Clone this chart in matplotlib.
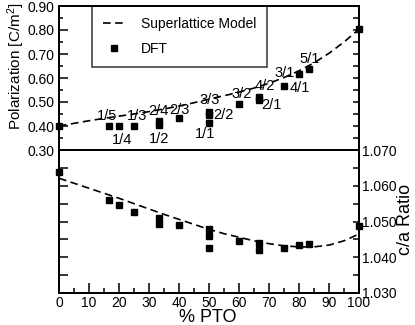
import matplotlib
matplotlib.use("Agg")
import matplotlib.pyplot as plt
from matplotlib.ticker import MultipleLocator, FormatStrFormatter

plt.rcParams['font.family'] = ['Liberation Sans', 'DejaVu Sans']
plt.rcParams['mathtext.fontset'] = 'custom'
plt.rcParams['mathtext.rm'] = 'Liberation Sans'
plt.rcParams['mathtext.it'] = 'Liberation Sans:italic'
plt.rcParams['lines.scale_dashes'] = False

# ---- data ----
dft_pto = [0, 16.67, 20, 25, 33.33, 33.33, 40, 50, 50, 50, 60, 66.67, 66.67, 75, 80, 83.33, 100]
dft_pol = [0.402, 0.398, 0.398, 0.398, 0.419, 0.405, 0.433, 0.457, 0.447, 0.414,
           0.493, 0.520, 0.508, 0.568, 0.615, 0.638, 0.803]
dft_ca = [1.0638, 1.0561, 1.0547, 1.0526, 1.0510, 1.0492, 1.0489, 1.0479, 1.0460, 1.0427,
          1.0445, 1.0439, 1.0419, 1.0427, 1.0433, 1.0436, 1.0487]

model_pto = [0, 5, 10, 15, 20, 25, 30, 35, 40, 45, 50, 55, 60, 65, 70, 75, 80, 85, 90, 95, 100]
model_pol = [0.400, 0.411, 0.422, 0.432, 0.441, 0.450, 0.460, 0.471, 0.483, 0.497, 0.512,
             0.526, 0.541, 0.558, 0.578, 0.602, 0.630, 0.663, 0.703, 0.750, 0.803]
model_ca = [1.0621, 1.0607, 1.0593, 1.0579, 1.0565, 1.0550, 1.0535, 1.0520, 1.0506, 1.0492,
            1.0478, 1.0466, 1.0456, 1.0446, 1.0438, 1.0432, 1.0429, 1.0429, 1.0434, 1.0446, 1.0465]

lab_text = ['1/5', '1/4', '1/3', '2/4', '2/3', '1/2', '3/3', '2/2', '1/1',
            '3/2', '4/2', '2/1', '3/1', '4/1', '5/1']
lab_x = [16.0, 20.9, 25.9, 33.1, 40.3, 33.5, 50.3, 54.8, 48.8, 61.0, 68.7, 70.9, 75.3, 80.3, 83.7]
lab_y = [0.440, 0.342, 0.440, 0.463, 0.465, 0.347, 0.508, 0.446, 0.368,
         0.534, 0.568, 0.489, 0.622, 0.559, 0.678]

x_ticks = [0, 10, 20, 30, 40, 50, 60, 70, 80, 90, 100]

# ---- figure ----
fig = plt.figure(figsize=(4.15, 3.25), dpi=100)
L, W = 59 / 415, 300 / 415
ax1 = fig.add_axes([L, 1 - 150 / 325, W, 144 / 325])
ax2 = fig.add_axes([L, 1 - 293 / 325, W, 143 / 325])

lw_sp = 1.3
dash = (0, (5.5, 3.2))

# top panel
ax1.plot(model_pto, model_pol, color='black', lw=1.2, linestyle=dash,
         label='Superlattice Model', clip_on=False)
ax1.plot(dft_pto, dft_pol, 's', color='black', ms=5, label='DFT', clip_on=False, zorder=5)
for t, x, y in zip(lab_text, lab_x, lab_y):
    ax1.text(x, y, t, ha='center', va='center', fontsize=10.5, zorder=6)
ax1.set_xlim(0, 100)
ax1.set_ylim(0.30, 0.90)
ax1.yaxis.set_major_locator(MultipleLocator(0.1))
ax1.yaxis.set_minor_locator(MultipleLocator(0.05))
ax1.yaxis.set_major_formatter(FormatStrFormatter('%.2f'))
ax1.xaxis.set_major_locator(MultipleLocator(10))
ax1.xaxis.set_minor_locator(MultipleLocator(5))
ax1.tick_params(axis='y', which='both', direction='in', left=True, right=False,
                labelsize=10, width=1.1, pad=3)
ax1.tick_params(axis='y', which='major', length=6.5)
ax1.tick_params(axis='y', which='minor', length=3)
ax1.tick_params(axis='x', which='both', direction='out', bottom=True, top=False,
                labelbottom=False, width=1.1)
ax1.tick_params(axis='x', which='major', length=9)
ax1.tick_params(axis='x', which='minor', length=5)
for s in ax1.spines.values():
    s.set_linewidth(lw_sp)
r1 = ax1.twinx()
r1.set_ylim(0.30, 0.90)
r1.yaxis.set_major_locator(MultipleLocator(0.05))
r1.tick_params(axis='y', direction='in', length=4, width=1.1, labelright=False)
for s in r1.spines.values():
    s.set_linewidth(lw_sp)

leg = ax1.legend(loc='upper left', bbox_to_anchor=(0.11, 1.0), fontsize=10,
                 frameon=True, fancybox=False, edgecolor='black', borderpad=0.8,
                 labelspacing=0.75, handlelength=1.5, handletextpad=1.2,
                 borderaxespad=0)
leg.get_frame().set_linewidth(1.1)
leg.set_zorder(10)

# bottom panel
ax2.plot(model_pto, model_ca, color='black', lw=1.2, linestyle=dash, clip_on=False)
ax2.plot(dft_pto, dft_ca, 's', color='black', ms=5, clip_on=False, zorder=5)
ax2.set_xlim(0, 100)
ax2.set_ylim(1.030, 1.070)
ax2.set_xticks(x_ticks)
ax2.xaxis.set_minor_locator(MultipleLocator(5))
ax2.tick_params(axis='x', which='both', direction='in', top=False, labelsize=10,
                width=1.1, pad=2)
ax2.tick_params(axis='x', which='major', length=7)
ax2.tick_params(axis='x', which='minor', length=3.5)
ax2.yaxis.set_major_locator(MultipleLocator(0.005))
ax2.tick_params(axis='y', direction='in', length=6.5, width=1.1, labelleft=False)
for s in ax2.spines.values():
    s.set_linewidth(lw_sp)
r2 = ax2.twinx()
r2.set_ylim(1.030, 1.070)
r2.yaxis.set_major_locator(MultipleLocator(0.01))
r2.yaxis.set_minor_locator(MultipleLocator(0.005))
r2.yaxis.set_major_formatter(FormatStrFormatter('%.3f'))
r2.tick_params(axis='y', which='both', direction='in', length=4, width=1.1,
               labelsize=10, pad=2)
for s in r2.spines.values():
    s.set_linewidth(lw_sp)

fig.text(16 / 415, 1 - 66 / 325, 'Polarization [C/m$^2$]', rotation=90,
         ha='center', va='center', fontsize=11)
fig.text(405 / 415, 1 - 219 / 325, 'c/a Ratio', rotation=90,
         ha='center', va='center', fontsize=13)
fig.text(208 / 415, 1 - 318 / 325, '% PTO', ha='center', va='center', fontsize=13)

fig.savefig('out.png', dpi=100)
